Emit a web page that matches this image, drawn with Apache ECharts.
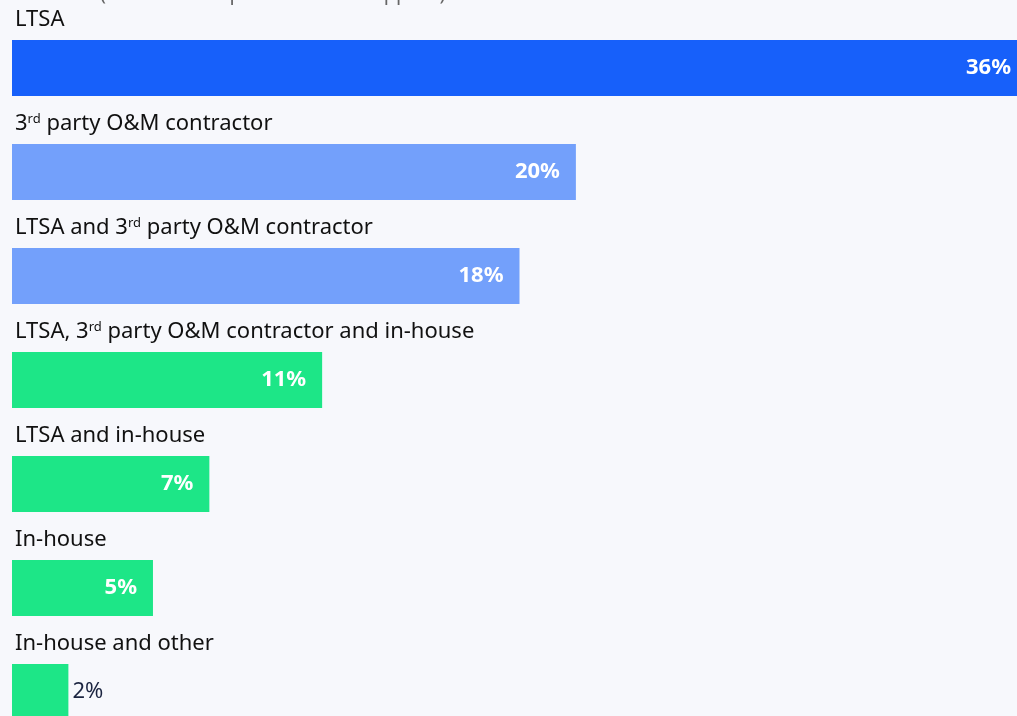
<!DOCTYPE html>
<html>
<head>
<meta charset="utf-8">
<title>O&amp;M model</title>
<script src="https://cdn.jsdelivr.net/npm/echarts@6/dist/echarts.min.js"></script>
<style>
  html, body { margin: 0; padding: 0; background: #f7f8fc; }
  #chart { width: 1017px; height: 716px; }
</style>
</head>
<body>
<div id="chart"></div>
<script>
// data
var categories = [
    'LTSA',
    '3{sup|rd} party O&M contractor',
    'LTSA and 3{sup|rd} party O&M contractor',
    'LTSA, 3{sup|rd} party O&M contractor and in-house',
    'LTSA and in-house',
    'In-house',
    'In-house and other'
];
var shares = [36, 20, 18, 11, 7, 5, 2];
var subtitle = '(Choose the option that best applies)';

var barColors = ['#1760fa', '#73a0fb', '#73a0fb', '#1de687', '#1de687', '#1de687', '#1de687'];
var textFont = '"Noto Sans", sans-serif';

var chart = echarts.init(document.getElementById('chart'));

var option = {
    backgroundColor: '#f7f8fc',
    animation: false,
    graphic: [{
        type: 'text',
        left: 100,
        top: -16,
        style: { text: subtitle, fontSize: 20, fontFamily: textFont, fill: '#666' }
    }],
    // grid deliberately runs past the canvas: the top bar and last row are cut off
    grid: { left: 12, right: -10, top: 16, bottom: -28, outerBoundsMode: 'none' },
    xAxis: {
        type: 'value',
        min: 0,
        max: 36,
        show: false
    },
    yAxis: {
        type: 'category',
        inverse: true,
        data: categories,
        axisLine: { show: false },
        axisTick: { show: false },
        axisLabel: {
            inside: true,
            margin: 3,
            align: 'left',
            verticalAlign: 'middle',
            padding: [0, 0, 96, 0],
            fontSize: 22,
            fontFamily: textFont,
            color: '#111',
            rich: {
                sup: { fontSize: 13, verticalAlign: 'top', padding: [0, 0, 10, 0], fontFamily: textFont, color: '#111' }
            }
        }
    },
    series: [{
        type: 'bar',
        barWidth: 56,
        clip: true,
        data: shares.map(function (v, i) {
            var small = v < 4;
            return {
                value: v,
                itemStyle: { color: barColors[i] },
                label: small ? {
                    position: 'right',
                    distance: 4,
                    color: '#1b2440',
                    fontWeight: 'normal'
                } : {}
            };
        }),
        label: {
            show: true,
            position: 'insideRight',
            distance: 16,
            formatter: '{c}%',
            color: '#fff',
            fontWeight: 'bold',
            fontSize: 22,
            fontFamily: textFont
        }
    }]
};

chart.setOption(option);
</script>
</body>
</html>
